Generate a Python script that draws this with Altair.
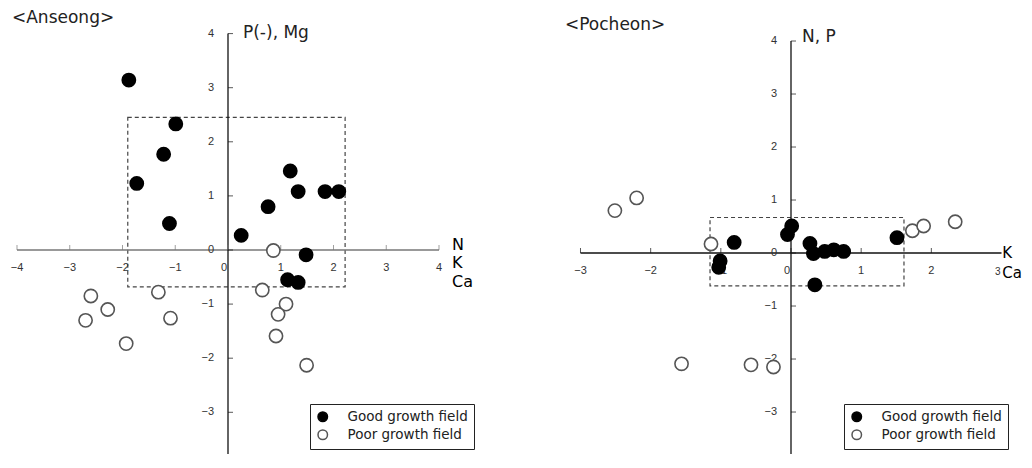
import altair as alt
import pandas as pd

GOOD = "Good growth field"
POOR = "Poor growth field"

# ---------------- Anseong (left panel) ----------------
ans_good_x = [-1.88, -0.99, -1.22, -1.73, -1.11, 0.25, 0.76, 1.18, 1.33, 1.84, 2.10, 1.48, 1.13, 1.33]
ans_good_y = [3.14, 2.33, 1.77, 1.23, 0.49, 0.27, 0.80, 1.46, 1.08, 1.08, 1.08, -0.09, -0.55, -0.60]
ans_poor_x = [0.86, 0.65, 1.10, 0.95, 0.91, 1.49, -1.32, -1.09, -2.60, -2.28, -2.70, -1.93]
ans_poor_y = [-0.01, -0.74, -1.00, -1.19, -1.59, -2.13, -0.78, -1.26, -0.85, -1.10, -1.30, -1.73]
ans_xticks = [-4, -3, -2, -1, 0, 1, 2, 3, 4]
ans_xlabels = [-4, -3, -2, -1, 1, 2, 3, 4]
ans_xend = []
ans_yticks = [-4, -3, -2, -1, 0, 1, 2, 3, 4]
ans_ylabels = [-4, -3, -2, -1, 0, 1, 2, 3, 4]
ans_axis_x = [-4, 4]
ans_axis_y = [-4, 4]
ans_box = [-1.90, 2.22, -0.68, 2.45]
ans_head_text = ["<Anseong>", "P(-), Mg"]
ans_head_x = [-4.095, 0.284]
ans_head_y = [4.29, 4.01]
ans_name_text = ["N", "K", "Ca"]
ans_name_x = [4.246, 4.246, 4.246]
ans_name_y = [0.09, -0.24, -0.59]

# ---------------- Pocheon (right panel) ----------------
poc_good_x = [0.01, -0.05, -0.81, -1.01, -1.03, 0.27, 0.32, 0.48, 0.61, 0.75, 1.51, 0.34]
poc_good_y = [0.51, 0.35, 0.20, -0.15, -0.27, 0.18, -0.01, 0.03, 0.06, 0.03, 0.29, -0.60]
poc_poor_x = [-1.14, 1.73, 1.89, 2.34, -2.51, -2.20, -1.56, -0.57, -0.25]
poc_poor_y = [0.17, 0.42, 0.51, 0.59, 0.80, 1.04, -2.09, -2.11, -2.15]
poc_xticks = [-3, -2, -1, 0, 1, 2]
poc_xlabels = [-3, -2, -1, 1, 2]
poc_xend = [3]
poc_yticks = [-4, -3, -2, -1, 0, 1, 2, 3, 4]
poc_ylabels = [-4, -3, -2, -1, 0, 1, 2, 3, 4]
poc_axis_x = [-3, 3]
poc_axis_y = [-4, 4]
poc_box = [-1.154, 1.61, -0.62, 0.67]
poc_head_text = ["<Pocheon>", "N, P"]
poc_head_x = [-3.221, 0.157]
poc_head_y = [4.30, 4.075]
poc_name_text = ["K", "Ca"]
poc_name_x = [3.01, 3.01]
poc_name_y = [0.0, -0.377]

FONT = "DejaVu Sans"
TICKFONT = "Liberation Sans"


def fmt(vals):
    return [str(v).replace("-", "\u2212") for v in vals]


def panel(gx, gy, px, py, xticks, xlabels, xend, yticks, ylabels, axx, axy, box,
          htext, hx, hy, ntext, nx, ny, nsize, xdom, ydom, w, h, lx, ly, xaxis_color):
    xs = alt.Scale(domain=xdom, nice=False, zero=False)
    ys = alt.Scale(domain=ydom, nice=False, zero=False)

    def X(f="x"):
        return alt.X(f"{f}:Q", scale=xs, axis=None)

    def Y(f="y"):
        return alt.Y(f"{f}:Q", scale=ys, axis=None)

    pts = pd.DataFrame({"x": gx + px, "y": gy + py,
                        "group": [GOOD] * len(gx) + [POOR] * len(px)})

    box_df = pd.DataFrame({"x": [box[0]], "x2": [box[1]], "y": [box[2]], "y2": [box[3]]})
    rect = alt.Chart(box_df).mark_rect(fillOpacity=0, stroke="#444", strokeWidth=1.2,
                                       strokeDash=[4, 3], clip=True).encode(
        x=X(), x2="x2:Q", y=Y(), y2="y2:Q")

    xa_df = pd.DataFrame({"x": [axx[0]], "x2": [axx[1]], "y": [0]})
    xaxis = alt.Chart(xa_df).mark_rule(color=xaxis_color, strokeWidth=1.3, clip=True).encode(
        x=X(), x2="x2:Q", y=Y())
    ya_df = pd.DataFrame({"y": [axy[0]], "y2": [axy[1]], "x": [0]})
    yaxis = alt.Chart(ya_df).mark_rule(color="#111", strokeWidth=1.3, clip=True).encode(
        x=X(), y=Y(), y2="y2:Q")

    xt_df = pd.DataFrame({"x": xticks, "y": [0] * len(xticks)})
    xt = alt.Chart(xt_df).mark_tick(orient="vertical", size=5, thickness=1, yOffset=-2.5,
                                    color=xaxis_color, clip=True).encode(x=X(), y=Y())
    yt_df = pd.DataFrame({"y": yticks, "x": [0] * len(yticks)})
    yt = alt.Chart(yt_df).mark_tick(orient="horizontal", size=5, thickness=1, xOffset=2.5,
                                    color="#111", clip=True).encode(x=X(), y=Y())

    xl_df = pd.DataFrame({"x": xlabels, "y": [0] * len(xlabels), "t": fmt(xlabels)})
    xl = alt.Chart(xl_df).mark_text(align="center", baseline="middle", dy=18, fontSize=11,
                                    font=TICKFONT, color="#333", clip=True).encode(
        x=X(), y=Y(), text="t:N")
    x0_df = pd.DataFrame({"x": [0], "y": [0], "t": ["0"]})
    x0 = alt.Chart(x0_df).mark_text(align="center", baseline="middle", dx=-4, dy=18,
                                    fontSize=11, font=TICKFONT, color="#333", clip=True).encode(
        x=X(), y=Y(), text="t:N")
    yl_df = pd.DataFrame({"y": ylabels, "x": [0] * len(ylabels), "t": fmt(ylabels)})
    yl = alt.Chart(yl_df).mark_text(align="right", baseline="middle", dx=-14, fontSize=11,
                                    font=TICKFONT, color="#333", clip=True).encode(
        x=X(), y=Y(), text="t:N")

    leg = alt.Legend(title=None, orient="none", legendX=lx, legendY=ly,
                     strokeColor="#222", fillColor="white", padding=6, rowPadding=2,
                     labelFontSize=13.5, labelFont=FONT, labelColor="#222",
                     symbolType="circle", symbolSize=90, symbolStrokeWidth=1.5,
                     labelOffset=18, cornerRadius=0)
    points = alt.Chart(pts).mark_point(shape="circle", filled=True, size=175, opacity=1,
                                       strokeWidth=1.6).encode(
        x=X(), y=Y(),
        fill=alt.Fill("group:N", scale=alt.Scale(domain=[GOOD, POOR], range=["#000000", "#ffffff"]),
                      legend=leg),
        stroke=alt.Stroke("group:N", scale=alt.Scale(domain=[GOOD, POOR], range=["#000000", "#555555"]),
                          legend=leg),
    )

    h_df = pd.DataFrame({"x": hx, "y": hy, "t": htext})
    heads = alt.Chart(h_df).mark_text(align="left", baseline="middle", fontSize=17, font=FONT,
                                      color="#222").encode(x=X(), y=Y(), text="t:N")
    n_df = pd.DataFrame({"x": nx, "y": ny, "t": ntext})
    names = alt.Chart(n_df).mark_text(align="left", baseline="middle", fontSize=nsize, font=FONT,
                                      color="#000").encode(x=X(), y=Y(), text="t:N")

    layers = [rect, xaxis, yaxis, xt, yt, xl, x0, yl]
    if xend:
        xe_df = pd.DataFrame({"x": xend, "y": [0] * len(xend), "t": fmt(xend)})
        layers.append(alt.Chart(xe_df).mark_text(align="right", baseline="middle", dx=-1, dy=19,
                                                 fontSize=10, font=TICKFONT, color="#333",
                                                 clip=True).encode(x=X(), y=Y(), text="t:N"))
    layers += [points, heads, names]
    return alt.layer(*layers).properties(width=w, height=h)


left = panel(ans_good_x, ans_good_y, ans_poor_x, ans_poor_y, ans_xticks, ans_xlabels, ans_xend,
             ans_yticks, ans_ylabels, ans_axis_x, ans_axis_y, ans_box,
             ans_head_text, ans_head_x, ans_head_y, ans_name_text, ans_name_x, ans_name_y, 16,
             [-4.1706, 4.9668], [-3.771, 4.473], 482, 446, 302, 396, "#777777")

right = panel(poc_good_x, poc_good_y, poc_poor_x, poc_poor_y, poc_xticks, poc_xlabels, poc_xend,
              poc_yticks, poc_ylabels, poc_axis_x, poc_axis_y, poc_box,
              poc_head_text, poc_head_x, poc_head_y, poc_name_text, poc_name_x, poc_name_y, 15,
              [-4.2896, 3.3205], [-3.792, 4.623], 534, 446, 354, 396, "#111111")

chart = alt.hconcat(left, right, spacing=0).resolve_scale(
    x="independent", y="independent", fill="independent", stroke="independent"
).resolve_legend(fill="independent", stroke="independent").properties(
    padding=0
).configure_view(stroke=None)

chart.save("out.html", embed_options={"renderer": "svg", "actions": False})
